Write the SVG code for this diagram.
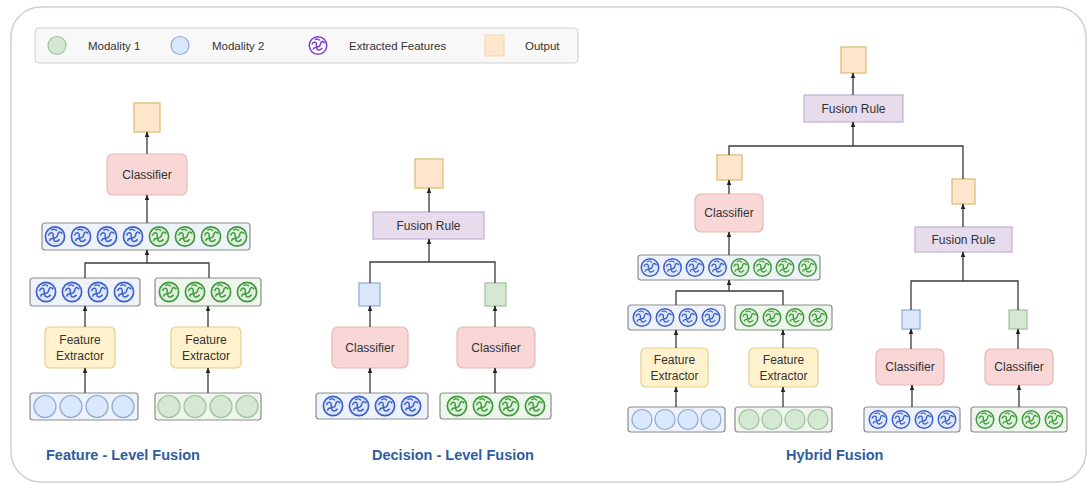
<svg xmlns="http://www.w3.org/2000/svg" xmlns:xlink="http://www.w3.org/1999/xlink" width="1088" height="484" viewBox="0 0 1088 484">
<style>
text{font-family:"Liberation Sans",Arial,sans-serif;fill:#333}
.t{font-size:12px;text-anchor:middle}
.lg{font-size:11.5px}
.ttl{font-size:14.5px;font-weight:bold;fill:#2f5d9f}
.out{fill:#ffe6cc;stroke:#dcb96a;stroke-width:1.2}
.cls{fill:#f8d7d6;stroke:#e7b7b5;stroke-width:1.2}
.fr{fill:#e6dcec;stroke:#c2b0cf;stroke-width:1.2}
.fe{fill:#fff2cc;stroke:#e5cf8b;stroke-width:1.2}
.rowb{fill:#eef3fb;stroke:#8d8d8d;stroke-width:1.2}
.rowg{fill:#eef6ee;stroke:#8d8d8d;stroke-width:1.2}
.sb{fill:#dae8fc;stroke:#8fa9d6;stroke-width:1.2}
.sg{fill:#d5e8d4;stroke:#9cc39a;stroke-width:1.2}
.m1{fill:#d5e8d4;stroke:#9cc39a;stroke-width:1.2}
.m2{fill:#dae8fc;stroke:#8fa9d6;stroke-width:1.2}
.c{fill:none;stroke:#3a3a3a;stroke-width:1.3}
.a{fill:none;stroke:#3a3a3a;stroke-width:1.3;marker-end:url(#ah)}
</style>
<defs>
<marker id="ah" viewBox="0 0 10 10" refX="9" refY="5" markerWidth="6" markerHeight="6" markerUnits="userSpaceOnUse" orient="auto"><path d="M0,1 L10,5 L0,9 z" fill="#222"/></marker>
<symbol id="fb" viewBox="-12 -12 24 24"><circle r="10.5" fill="#dfe8fb" stroke="#3c5fc8" stroke-width="1.8"/><path d="M-7,-1 C-6,-6 -1,-4 -2,-1 S2,3 3,-2 S7,-4 8,-3 M-6,5 C-5,1 -1,2 -1,4 S3,6 5,3 M-4,-7 C-2,-8 1,-8 2,-6" fill="none" stroke="#3c5fc8" stroke-width="1.6"/></symbol>
<symbol id="fg" viewBox="-12 -12 24 24"><circle r="10.5" fill="#dff0de" stroke="#3f9a3c" stroke-width="1.8"/><path d="M-7,-1 C-6,-6 -1,-4 -2,-1 S2,3 3,-2 S7,-4 8,-3 M-6,5 C-5,1 -1,2 -1,4 S3,6 5,3 M-4,-7 C-2,-8 1,-8 2,-6" fill="none" stroke="#3f9a3c" stroke-width="1.6"/></symbol>
<symbol id="fp" viewBox="-12 -12 24 24"><circle r="10.5" fill="#fff" stroke="#7a3cd0" stroke-width="1.8"/><path d="M-7,-1 C-6,-6 -1,-4 -2,-1 S2,3 3,-2 S7,-4 8,-3 M-6,5 C-5,1 -1,2 -1,4 S3,6 5,3 M-4,-7 C-2,-8 1,-8 2,-6" fill="none" stroke="#7a3cd0" stroke-width="1.8"/></symbol>
</defs>
<rect x="0" y="0" width="1088" height="484" fill="#fff"/>
<rect x="11" y="7" width="1075" height="475" rx="30" fill="#fff" stroke="#c9d1d9" stroke-width="1.5"/>

<g id="legend">
<rect x="35" y="28" width="543" height="35" rx="4" fill="#f8f8f8" stroke="#cfcfcf"/>
<circle cx="57" cy="45.5" r="9" class="m1"/>
<text x="88" y="49.5" class="lg">Modality 1</text>
<circle cx="180" cy="45.5" r="9" class="m2"/>
<text x="212" y="49.5" class="lg">Modality 2</text>
<use href="#fp" x="308" y="35.5" width="20" height="20"/>
<text x="349" y="49.5" class="lg">Extracted Features</text>
<rect x="485" y="35" width="19" height="21" fill="#ffe6cc" stroke="#f0d6ae"/>
<text x="525" y="49.5" class="lg">Output</text>
</g>

<!-- Feature-level fusion -->
<g id="fl-output"><rect x="134" y="103" width="26" height="29" class="out"/></g>
<g id="fl-classifier"><rect x="107" y="154" width="80" height="41" rx="6" class="cls"/><text x="147" y="179" class="t">Classifier</text></g>
<g id="fl-fused-features">
<rect x="42" y="223" width="208" height="27" rx="3" class="rowb"/>
<use href="#fb" x="44" y="225.5" width="22" height="22"/><use href="#fb" x="70" y="225.5" width="22" height="22"/><use href="#fb" x="96" y="225.5" width="22" height="22"/><use href="#fb" x="122" y="225.5" width="22" height="22"/>
<use href="#fg" x="148" y="225.5" width="22" height="22"/><use href="#fg" x="174" y="225.5" width="22" height="22"/><use href="#fg" x="200" y="225.5" width="22" height="22"/><use href="#fg" x="226" y="225.5" width="22" height="22"/>
</g>
<g id="fl-features-1">
<rect x="30" y="278" width="110" height="28" rx="3" class="rowb"/>
<use href="#fb" x="35" y="281" width="22" height="22"/><use href="#fb" x="61" y="281" width="22" height="22"/><use href="#fb" x="87" y="281" width="22" height="22"/><use href="#fb" x="113" y="281" width="22" height="22"/>
</g>
<g id="fl-features-2">
<rect x="155" y="278" width="106" height="28" rx="3" class="rowg"/>
<use href="#fg" x="158" y="281" width="22" height="22"/><use href="#fg" x="184" y="281" width="22" height="22"/><use href="#fg" x="210" y="281" width="22" height="22"/><use href="#fg" x="236" y="281" width="22" height="22"/>
</g>
<g id="fl-extractor-1"><rect x="45" y="327" width="70" height="41" rx="5" class="fe"/><text x="80" y="344" class="t">Feature</text><text x="80" y="360" class="t">Extractor</text></g>
<g id="fl-extractor-2"><rect x="171" y="327" width="70" height="41" rx="5" class="fe"/><text x="206" y="344" class="t">Feature</text><text x="206" y="360" class="t">Extractor</text></g>
<g id="fl-input-1">
<rect x="30" y="393" width="108" height="27" rx="3" class="rowb"/>
<circle cx="45" cy="406.5" r="11" class="m2"/><circle cx="71" cy="406.5" r="11" class="m2"/><circle cx="97" cy="406.5" r="11" class="m2"/><circle cx="123" cy="406.5" r="11" class="m2"/>
</g>
<g id="fl-input-2">
<rect x="155" y="393" width="106" height="27" rx="3" class="rowg"/>
<circle cx="169" cy="406.5" r="11" class="m1"/><circle cx="195" cy="406.5" r="11" class="m1"/><circle cx="221" cy="406.5" r="11" class="m1"/><circle cx="247" cy="406.5" r="11" class="m1"/>
</g>
<text x="46" y="460" class="ttl">Feature - Level Fusion</text>

<!-- Decision-level fusion -->
<g id="dl-output"><rect x="415" y="159" width="28" height="29" class="out"/></g>
<g id="dl-fusion"><rect x="373" y="212" width="111" height="27" class="fr"/><text x="428.5" y="230" class="t">Fusion Rule</text></g>
<g id="dl-dec-1"><rect x="359" y="283" width="21" height="23" class="sb"/></g>
<g id="dl-dec-2"><rect x="485" y="283" width="21" height="23" class="sg"/></g>
<g id="dl-classifier-1"><rect x="332" y="327" width="76" height="41" rx="6" class="cls"/><text x="370" y="352" class="t">Classifier</text></g>
<g id="dl-classifier-2"><rect x="457" y="327" width="78" height="41" rx="6" class="cls"/><text x="496" y="352" class="t">Classifier</text></g>
<g id="dl-features-1">
<rect x="316" y="393" width="112" height="26" rx="3" class="rowb"/>
<use href="#fb" x="322" y="395" width="22" height="22"/><use href="#fb" x="348" y="395" width="22" height="22"/><use href="#fb" x="374" y="395" width="22" height="22"/><use href="#fb" x="400" y="395" width="22" height="22"/>
</g>
<g id="dl-features-2">
<rect x="440" y="393" width="111" height="26" rx="3" class="rowg"/>
<use href="#fg" x="446" y="395" width="22" height="22"/><use href="#fg" x="472" y="395" width="22" height="22"/><use href="#fg" x="498" y="395" width="22" height="22"/><use href="#fg" x="524" y="395" width="22" height="22"/>
</g>
<text x="372" y="460" class="ttl">Decision - Level Fusion</text>

<!-- Hybrid fusion -->
<g id="hy-output"><rect x="841" y="47" width="25" height="26" class="out"/></g>
<g id="hy-fusion"><rect x="804" y="95" width="99" height="27" class="fr"/><text x="853.5" y="113" class="t">Fusion Rule</text></g>
<g id="hy-out-a"><rect x="717" y="155" width="25" height="25" class="out"/></g>
<g id="hy-classifier"><rect x="695" y="194" width="68" height="38" rx="6" class="cls"/><text x="729" y="217" class="t">Classifier</text></g>
<g id="hy-fused-features">
<rect x="638" y="255" width="182" height="25" rx="3" class="rowb"/>
<use href="#fb" x="640" y="257.5" width="20" height="20"/><use href="#fb" x="662.5" y="257.5" width="20" height="20"/><use href="#fb" x="685" y="257.5" width="20" height="20"/><use href="#fb" x="707.5" y="257.5" width="20" height="20"/>
<use href="#fg" x="730" y="257.5" width="20" height="20"/><use href="#fg" x="752.5" y="257.5" width="20" height="20"/><use href="#fg" x="775" y="257.5" width="20" height="20"/><use href="#fg" x="797.5" y="257.5" width="20" height="20"/>
</g>
<g id="hy-features-1">
<rect x="628" y="305" width="97" height="25" rx="3" class="rowb"/>
<use href="#fb" x="632" y="307.5" width="20" height="20"/><use href="#fb" x="655" y="307.5" width="20" height="20"/><use href="#fb" x="678" y="307.5" width="20" height="20"/><use href="#fb" x="701" y="307.5" width="20" height="20"/>
</g>
<g id="hy-features-2">
<rect x="735" y="305" width="97" height="25" rx="3" class="rowg"/>
<use href="#fg" x="739" y="307.5" width="20" height="20"/><use href="#fg" x="762" y="307.5" width="20" height="20"/><use href="#fg" x="785" y="307.5" width="20" height="20"/><use href="#fg" x="808" y="307.5" width="20" height="20"/>
</g>
<g id="hy-extractor-1"><rect x="641" y="348" width="67" height="39" rx="5" class="fe"/><text x="674.5" y="364" class="t">Feature</text><text x="674.5" y="380" class="t">Extractor</text></g>
<g id="hy-extractor-2"><rect x="749" y="348" width="69" height="39" rx="5" class="fe"/><text x="783.5" y="364" class="t">Feature</text><text x="783.5" y="380" class="t">Extractor</text></g>
<g id="hy-input-1">
<rect x="628" y="407" width="97" height="25" rx="3" class="rowb"/>
<circle cx="642" cy="419.5" r="10" class="m2"/><circle cx="665" cy="419.5" r="10" class="m2"/><circle cx="688" cy="419.5" r="10" class="m2"/><circle cx="711" cy="419.5" r="10" class="m2"/>
</g>
<g id="hy-input-2">
<rect x="735" y="407" width="97" height="25" rx="3" class="rowg"/>
<circle cx="749" cy="419.5" r="10" class="m1"/><circle cx="772" cy="419.5" r="10" class="m1"/><circle cx="795" cy="419.5" r="10" class="m1"/><circle cx="818" cy="419.5" r="10" class="m1"/>
</g>
<g id="hy-out-b"><rect x="952" y="179" width="23" height="25" class="out"/></g>
<g id="hy-fusion-b"><rect x="915" y="227" width="97" height="25" class="fr"/><text x="963.5" y="244" class="t">Fusion Rule</text></g>
<g id="hy-dec-1"><rect x="902" y="310" width="18" height="19" class="sb"/></g>
<g id="hy-dec-2"><rect x="1009" y="310" width="18" height="19" class="sg"/></g>
<g id="hy-classifier-1"><rect x="876" y="349" width="68" height="36" rx="6" class="cls"/><text x="910" y="371" class="t">Classifier</text></g>
<g id="hy-classifier-2"><rect x="985" y="349" width="68" height="36" rx="6" class="cls"/><text x="1019" y="371" class="t">Classifier</text></g>
<g id="hy-features-3">
<rect x="864" y="407" width="96" height="25" rx="3" class="rowb"/>
<use href="#fb" x="868" y="409.5" width="20" height="20"/><use href="#fb" x="891" y="409.5" width="20" height="20"/><use href="#fb" x="914" y="409.5" width="20" height="20"/><use href="#fb" x="937" y="409.5" width="20" height="20"/>
</g>
<g id="hy-features-4">
<rect x="971" y="407" width="96" height="25" rx="3" class="rowg"/>
<use href="#fg" x="975" y="409.5" width="20" height="20"/><use href="#fg" x="998" y="409.5" width="20" height="20"/><use href="#fg" x="1021" y="409.5" width="20" height="20"/><use href="#fg" x="1044" y="409.5" width="20" height="20"/>
</g>
<text x="786" y="460" class="ttl">Hybrid Fusion</text>

<g id="connectors">
<!-- feature-level -->
<path class="a" d="M85,393 V368"/>
<path class="a" d="M208,393 V368"/>
<path class="a" d="M85,327 V306"/>
<path class="a" d="M208,327 V306"/>
<path class="c" d="M85,278 V263 H209 V278"/>
<path class="a" d="M147,263 V250"/>
<path class="a" d="M147,223 V195"/>
<path class="a" d="M147,154 V132"/>
<!-- decision-level -->
<path class="a" d="M370,393 V368"/>
<path class="a" d="M495,393 V368"/>
<path class="a" d="M370,327 V306"/>
<path class="a" d="M495,327 V306"/>
<path class="c" d="M370,283 V262 H495 V283"/>
<path class="a" d="M429,262 V239"/>
<path class="a" d="M429,212 V188"/>
<!-- hybrid -->
<path class="a" d="M676,407 V387"/>
<path class="a" d="M783,407 V387"/>
<path class="a" d="M676,348 V330"/>
<path class="a" d="M783,348 V330"/>
<path class="c" d="M676,305 V291 H783 V305"/>
<path class="a" d="M729,291 V280"/>
<path class="a" d="M729,255 V232"/>
<path class="a" d="M729,194 V180"/>
<path class="c" d="M729,155 V146 H963 V179"/>
<path class="a" d="M853,146 V122"/>
<path class="a" d="M853,95 V73"/>
<path class="a" d="M912,407 V385"/>
<path class="a" d="M1019,407 V385"/>
<path class="a" d="M911,349 V329"/>
<path class="a" d="M1018,349 V329"/>
<path class="c" d="M911,310 V281 H1018 V310"/>
<path class="a" d="M963,281 V252"/>
<path class="a" d="M963,227 V204"/>
</g>
</svg>
